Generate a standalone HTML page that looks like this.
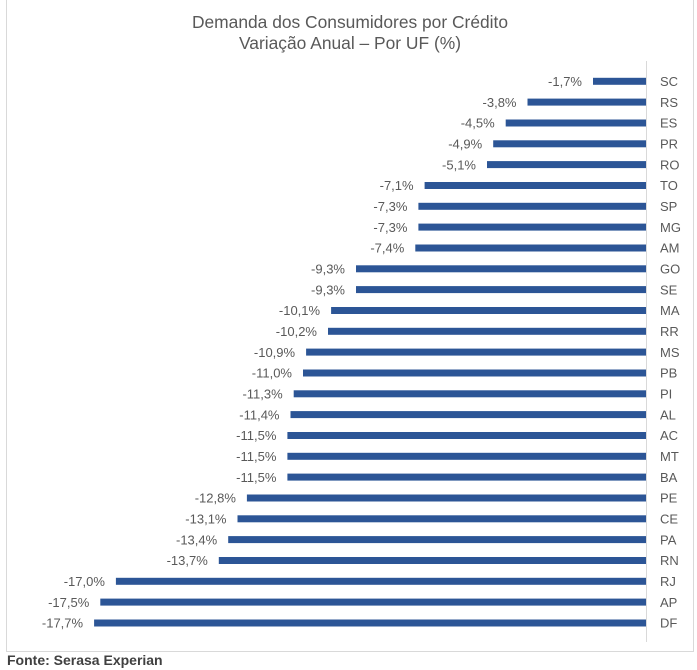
<!DOCTYPE html>
<html><head><meta charset="utf-8"><style>
html,body{margin:0;padding:0;background:#fff;}
svg{display:block;}
text{font-family:"Liberation Sans",Arial,sans-serif;}
.v{font-size:13px;fill:#595959;text-anchor:end;}
.c{font-size:13px;fill:#595959;}
.b{fill:#2c5596;}
</style></head><body>
<svg width="697" height="670" viewBox="0 0 697 670" xmlns="http://www.w3.org/2000/svg">
<rect x="0" y="0" width="697" height="670" fill="#fff"/>
<path d="M6.5 0 V651.5 H693.5 V0" fill="none" stroke="#d9d9d9" stroke-width="1"/>
<text x="350" y="28" text-anchor="middle" style="font-size:17.4px;fill:#595959">Demanda dos Consumidores por Crédito</text>
<text x="350" y="49" text-anchor="middle" style="font-size:17.4px;fill:#595959">Variação Anual – Por UF (%)</text>
<line x1="646.5" y1="61" x2="646.5" y2="642" stroke="#d9d9d9" stroke-width="1"/>
<g>
<rect class="b" x="593.0" y="77.8" width="53.0" height="7"/><text class="v" x="582.0" y="86.0">-1,7%</text><text class="c" x="660" y="86.0">SC</text>
<rect class="b" x="527.5" y="98.6" width="118.5" height="7"/><text class="v" x="516.5" y="106.8">-3,8%</text><text class="c" x="660" y="106.8">RS</text>
<rect class="b" x="505.7" y="119.5" width="140.3" height="7"/><text class="v" x="494.7" y="127.7">-4,5%</text><text class="c" x="660" y="127.7">ES</text>
<rect class="b" x="493.2" y="140.3" width="152.8" height="7"/><text class="v" x="482.2" y="148.5">-4,9%</text><text class="c" x="660" y="148.5">PR</text>
<rect class="b" x="487.0" y="161.1" width="159.0" height="7"/><text class="v" x="476.0" y="169.3">-5,1%</text><text class="c" x="660" y="169.3">RO</text>
<rect class="b" x="424.6" y="182.0" width="221.4" height="7"/><text class="v" x="413.6" y="190.2">-7,1%</text><text class="c" x="660" y="190.2">TO</text>
<rect class="b" x="418.4" y="202.8" width="227.6" height="7"/><text class="v" x="407.4" y="211.0">-7,3%</text><text class="c" x="660" y="211.0">SP</text>
<rect class="b" x="418.4" y="223.6" width="227.6" height="7"/><text class="v" x="407.4" y="231.8">-7,3%</text><text class="c" x="660" y="231.8">MG</text>
<rect class="b" x="415.3" y="244.5" width="230.7" height="7"/><text class="v" x="404.3" y="252.7">-7,4%</text><text class="c" x="660" y="252.7">AM</text>
<rect class="b" x="356.0" y="265.3" width="290.0" height="7"/><text class="v" x="345.0" y="273.5">-9,3%</text><text class="c" x="660" y="273.5">GO</text>
<rect class="b" x="356.0" y="286.1" width="290.0" height="7"/><text class="v" x="345.0" y="294.3">-9,3%</text><text class="c" x="660" y="294.3">SE</text>
<rect class="b" x="331.1" y="307.0" width="314.9" height="7"/><text class="v" x="320.1" y="315.2">-10,1%</text><text class="c" x="660" y="315.2">MA</text>
<rect class="b" x="328.0" y="327.8" width="318.0" height="7"/><text class="v" x="317.0" y="336.0">-10,2%</text><text class="c" x="660" y="336.0">RR</text>
<rect class="b" x="306.1" y="348.6" width="339.9" height="7"/><text class="v" x="295.1" y="356.8">-10,9%</text><text class="c" x="660" y="356.8">MS</text>
<rect class="b" x="303.0" y="369.5" width="343.0" height="7"/><text class="v" x="292.0" y="377.7">-11,0%</text><text class="c" x="660" y="377.7">PB</text>
<rect class="b" x="293.7" y="390.3" width="352.3" height="7"/><text class="v" x="282.7" y="398.5">-11,3%</text><text class="c" x="660" y="398.5">PI</text>
<rect class="b" x="290.5" y="411.1" width="355.5" height="7"/><text class="v" x="279.5" y="419.3">-11,4%</text><text class="c" x="660" y="419.3">AL</text>
<rect class="b" x="287.4" y="432.0" width="358.6" height="7"/><text class="v" x="276.4" y="440.2">-11,5%</text><text class="c" x="660" y="440.2">AC</text>
<rect class="b" x="287.4" y="452.8" width="358.6" height="7"/><text class="v" x="276.4" y="461.0">-11,5%</text><text class="c" x="660" y="461.0">MT</text>
<rect class="b" x="287.4" y="473.6" width="358.6" height="7"/><text class="v" x="276.4" y="481.8">-11,5%</text><text class="c" x="660" y="481.8">BA</text>
<rect class="b" x="246.9" y="494.5" width="399.1" height="7"/><text class="v" x="235.9" y="502.7">-12,8%</text><text class="c" x="660" y="502.7">PE</text>
<rect class="b" x="237.5" y="515.3" width="408.5" height="7"/><text class="v" x="226.5" y="523.5">-13,1%</text><text class="c" x="660" y="523.5">CE</text>
<rect class="b" x="228.2" y="536.1" width="417.8" height="7"/><text class="v" x="217.2" y="544.3">-13,4%</text><text class="c" x="660" y="544.3">PA</text>
<rect class="b" x="218.8" y="557.0" width="427.2" height="7"/><text class="v" x="207.8" y="565.2">-13,7%</text><text class="c" x="660" y="565.2">RN</text>
<rect class="b" x="115.9" y="577.8" width="530.1" height="7"/><text class="v" x="104.9" y="586.0">-17,0%</text><text class="c" x="660" y="586.0">RJ</text>
<rect class="b" x="100.3" y="598.6" width="545.7" height="7"/><text class="v" x="89.3" y="606.8">-17,5%</text><text class="c" x="660" y="606.8">AP</text>
<rect class="b" x="94.1" y="619.5" width="551.9" height="7"/><text class="v" x="83.1" y="627.7">-17,7%</text><text class="c" x="660" y="627.7">DF</text>
</g>
<text x="7" y="665" style="font-size:14px;font-weight:bold;fill:#404040">Fonte: Serasa Experian</text>
</svg>
</body></html>
